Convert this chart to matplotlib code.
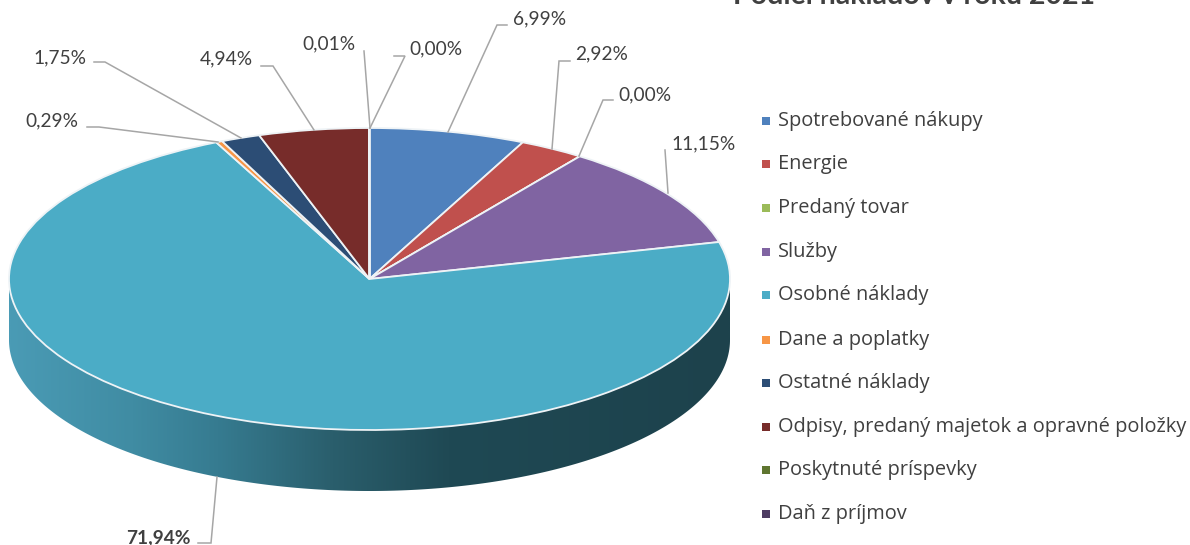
import matplotlib
matplotlib.use('Agg')
import matplotlib.pyplot as plt
from matplotlib.colors import LinearSegmentedColormap
from matplotlib.patches import Polygon
import numpy as np

plt.rcParams['font.family'] = ['Lato', 'DejaVu Sans']

categories = ['Spotrebované nákupy', 'Energie', 'Predaný tovar', 'Služby', 'Osobné náklady',
              'Dane a poplatky', 'Ostatné náklady', 'Odpisy, predaný majetok a opravné položky',
              'Poskytnuté príspevky', 'Daň z príjmov']
values = [6.99, 2.92, 0.00, 11.15, 71.94, 0.29, 1.75, 4.94, 0.01, 0.00]
colors = ['#4f81bd', '#c0504d', '#9bbb59', '#8064a2', '#4bacc6',
          '#f79646', '#2c4d75', '#772c2a', '#5f7530', '#4d3b62']

# pie geometry in pixels of the 1190x545 picture
W, H = 1190, 545
CX, CY, RX, RY, DEPTH = 369.5, 279, 360.5, 151, 61

# label placement: left edge, centre y, then the leader line points
label_layout = [
    (513, 19, [(507, 25), (497, 25), (448, 132)]),
    (575, 54, [(570, 61), (559, 61), (552, 149)]),
    (618, 95, [(613, 100), (603, 100), (579, 156)]),
    (671, 144, [(665, 150), (668, 193)]),
    (126, 538, [(198, 543), (211, 543), (217, 477)]),
    (25, 121, [(87, 127), (99, 127), (218, 142)]),
    (33, 58, [(94, 62), (105, 62), (241, 138)]),
    (200, 59, [(261, 66), (273, 66), (314, 130)]),
    (302, 44, [(364, 51), (370, 128)]),
    (409, 49, [(394, 56), (405, 56), (370, 128)]),
]
legend_y = [121, 164, 208, 252, 295, 340, 383, 427, 470, 514]

fig = plt.figure(figsize=(W / 100, H / 100), dpi=100)

# pie axes: unit circle stretched to the ellipse
ax = fig.add_axes([0, 0, 1, 1])
wedges, _ = ax.pie(values, colors=colors, startangle=90, counterclock=False, radius=1,
                   wedgeprops={'edgecolor': '#eef3f6', 'linewidth': 1.3, 'zorder': 3})
ax.set_aspect('auto')
ax.axis('off')

# side wall with horizontal shading
depth = DEPTH / RY
t = np.linspace(np.pi, 2 * np.pi, 300)
wall = np.concatenate([np.column_stack([np.cos(t), np.sin(t)]),
                       np.column_stack([np.cos(t[::-1]), np.sin(t[::-1]) - depth])])
shade = LinearSegmentedColormap.from_list('wall', [
    (0.0, '#4a9bb5'), (0.17, '#408ca3'), (0.29, '#367b90'), (0.45, '#2a5e6c'),
    (0.61, '#1f4954'), (1.0, '#1d424c')])
img = ax.imshow(np.linspace(0, 1, 512).reshape(1, -1), cmap=shade, aspect='auto',
                extent=(-1, 1, -1 - depth, 0), zorder=1, interpolation='bilinear')
clip = Polygon(wall, closed=True, transform=ax.transData, fill=False, edgecolor='none')
ax.add_patch(clip)
img.set_clip_path(clip)
ax.set_xlim(-CX / RX, (W - CX) / RX)
ax.set_ylim((CY - H) / RY, CY / RY)

# overlay in picture pixels for labels, leaders and legend
top = fig.add_axes([0, 0, 1, 1])
top.set_xlim(0, W)
top.set_ylim(H, 0)
top.axis('off')

for i, (val, (lx, ly, pts)) in enumerate(zip(values, label_layout)):
    xs, ys = zip(*pts)
    top.plot(xs, ys, color='#a6a6a6', lw=1.1, solid_joinstyle='miter')
    txt = f'{val:.2f}%'.replace('.', ',')
    top.text(lx, ly, txt, fontsize=13.8, color='#404040', va='center', ha='left',
             fontweight='bold' if i == 4 else 'normal')

for name, col, y in zip(categories, colors, legend_y):
    top.scatter([766], [y], marker='s', s=26, color=col, linewidths=0)
    top.text(778, y, name, fontsize=14.4, color='#404040', va='center', ha='left',
             family='Open Sans')

top.text(914, 4, 'Podiel nákladov v roku 2021', fontsize=20.5, fontweight='bold',
         color='#404040', ha='center', va='baseline')

plt.savefig('out.png', dpi=100)
plt.close()
